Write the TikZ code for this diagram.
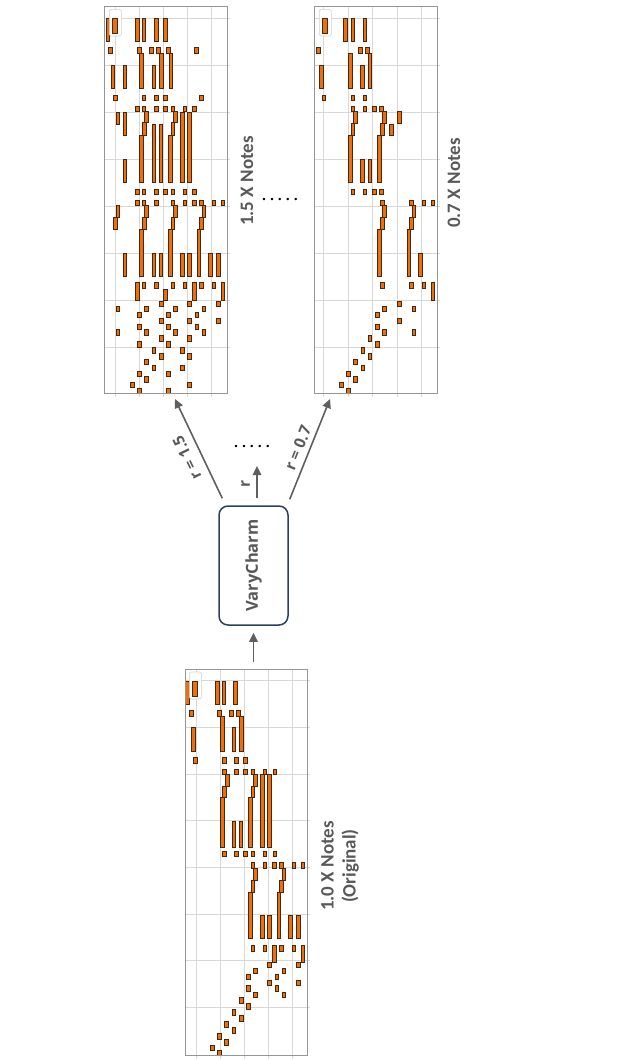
\documentclass[tikz,border=0pt]{standalone}
\usepackage{fontspec}
\usepackage{graphicx}
\setmainfont{Open Sans}
\newfontfamily\carlito{Carlito}
\usetikzlibrary{arrows.meta}
\definecolor{notefill}{RGB}{235,110,15}
\definecolor{noteline}{RGB}{70,40,15}
\definecolor{gridc}{RGB}{216,216,216}
\definecolor{framec}{RGB}{150,150,150}
\definecolor{txtc}{RGB}{89,89,89}
\definecolor{arrc}{RGB}{95,95,95}
\definecolor{boxc}{RGB}{47,64,88}
\begin{document}
\begin{tikzpicture}[x=1pt,y=-1pt,
  note/.style={fill=notefill,draw=noteline,line width=0.55pt},
  gridline/.style={draw=gridc,line width=0.8pt},
  plotframe/.style={draw=framec,line width=0.9pt,inner sep=0pt,outer sep=0pt},
  legendbox/.style={draw=black!18,fill=white,line width=0.6pt,rounded corners=1.5pt},
  arr/.style={draw=arrc,line width=1.6pt,-{Triangle[length=9pt,width=8.5pt]}},
  plotlabel/.style={text=txtc,font=\carlito\bfseries\fontsize{19}{22}\selectfont,rotate=90,align=center},
  arrlabel/.style={text=txtc,font=\bfseries\fontsize{15.5}{17}\selectfont,inner sep=1pt},
  dots/.style={text=black,font=\bfseries\fontsize{14}{15}\selectfont},
  vbox/.style={draw=boxc,line width=1.5pt,rounded corners=9pt,fill=white,minimum width=69pt,minimum height=119pt,inner sep=0pt,text=txtc,font=\bfseries\fontsize{16.5}{18}\selectfont}
]
\useasboundingbox (0,0) rectangle (621,1060);

% ---------- grids ----------
% original
\foreach \y in {680.7,727.3,774,820.7,867.3,914,960.7,1007.3}
  \draw[gridline] (185.3,\y) -- (310,\y);
\foreach \x in {196,220.3,244.3,268,292}
  \draw[gridline] (\x,669) -- (\x,1059);
% 1.5x
\foreach \y in {18.3,65,112.3,159.3,206.7,253.3,300,347}
  \draw[gridline] (104.7,\y) -- (230,\y);
\foreach \x in {115.3,139.7,163.7,187.7,211.3}
  \draw[gridline] (\x,6) -- (\x,397);
% 0.7x
\foreach \y in {18.3,65,112.3,159.3,206.7,253.3,300,347}
  \draw[gridline] (314.7,\y) -- (440,\y);
\foreach \x in {323.7,348,372,397,421}
  \draw[gridline] (\x,6) -- (\x,397);

% ---------- notes: original ----------
\foreach \x/\a/\b in {
  187.5/681/704, 217/681/704, 223.7/681/704, 235.3/681/704,
  193/727/751, 222/716/751, 233.7/727/751, 241.3/716/751,
  227/774/786, 224.3/786/797, 222/797/847, 255.3/774/786, 252.7/786/797, 250.3/797/847,
  262/774/847, 269.3/774/847, 233.7/821/847, 240.7/821/847,
  255.3/868/880, 252.7/880/892, 250.3/892/938, 283.7/868/880, 281.3/880/892, 278.7/892/938,
  262/915/938, 269.3/915/938, 290.3/915/938, 298/915/938,
  274.3/945/962, 302.7/945/962}
  \draw[note] (\x-1.8,\a) rectangle (\x+1.8,\b);
\foreach \a/\b/\l in {
  710/716/{191,219.3,231,238},
  757/763/{195.3,224.3,236,245.3},
  769/774/{224.3,236,245.3,252.7,264.7,274.7},
  851/856/{224.3,236,245.3,252.7,264.7,274.7},
  862/868/{252.7,264.7,274.3,281,293.7,302.7},
  945/951/{252.7,264.7,281.3,293.7},
  962/967/{269.3,298}, 968/973/{255.3,283.7}, 974/979/{248,276.7},
  980/985/{269.3,298}, 985.5/991/{248,276.7}, 992/997/{255.3,283.7},
  997.5/1003/{241}, 1003.5/1009/{248}, 1009.5/1015/{233.7}, 1015.5/1021/{241},
  1021.5/1027/{226.3}, 1027.5/1033/{233.7}, 1033.5/1039/{219.3}, 1039.5/1045/{226.3},
  1045.5/1050/{212}, 1050/1055/{219.3}}
  \foreach \x in \l {\draw[note] (\x-1.8,\a) rectangle (\x+1.8,\b);}

% ---------- notes: 1.5x ----------
\foreach \x/\a/\b in {
  107.7/18.3/41.7, 137/18.3/41.7, 143.7/18.3/41.7, 156/18.3/41.7, 165.3/18.3/41.7,
  141.3/53.3/88.3, 161.3/53.3/88.3, 170.7/53.3/88.3, 112.7/65/88.3, 124.7/65/88.3, 153.7/65/88.3,
  146.3/111/122.7, 144/122.7/135, 141.3/135/182.7, 175.3/111/122.7, 172.7/122.7/135, 170.3/135/182.7,
  182/112.3/182.7, 189.3/112.3/182.7, 153.7/124/182.7, 160.7/124/182.7,
  117.7/112.3/124, 124.7/112.3/135, 124.7/159.3/182.7,
  117.7/205.7/217.7, 115.3/217.7/229.3,
  146.3/205.7/217.7, 144/217.7/229.3, 141.3/229.3/276.7,
  175.3/205.7/217.7, 172.7/217.7/229.3, 170.3/229.3/276.7,
  203.7/205.7/217.7, 201.3/217.7/229.3, 198.7/229.3/276.7,
  124.7/253.3/276.7, 153.7/253.3/276.7, 160.7/253.3/276.7, 182/253.3/276.7, 189.3/253.3/276.7, 210.3/253.3/276.7, 218/253.3/276.7,
  137/282.3/300, 194.3/282.3/300, 222.7/282.3/300, 165.3/289/300}
  \draw[note] (\x-1.8,\a) rectangle (\x+1.8,\b);
\foreach \a/\b/\l in {
  47.7/53.3/{110.3,139.3,151,158,168,196.3},
  95/100/{115.3,143.7,156,165.3,201.3},
  106/111/{137,143.7,156,165.3,172.7,184.7,194.3},
  189/194.3/{137,143.7,156,165.3,172.7,184.7,194.3},
  200.3/205.7/{137,143.7,156,172.7,184.7,194.3,201.3,213.7,222.7},
  282.3/288.3/{143.7,156,172.7,184.7,201.3,213.7},
  301/306/{161,189.3,218}, 306.7/311.7/{117.7,146.3,175.3,203.7},
  312/317.7/{139.3,168,196.7}, 318.3/323.3/{161,189.3,218},
  324/329/{139.3,168,196.7}, 329.7/335/{117.7,146.3,175.3,203.7},
  335.7/341/{161,189.3}, 341.7/347/{139.3,168}, 347.7/353/{153.7,182},
  353.7/359/{161,189.3}, 359.3/364.7/{146.3}, 365/370.3/{153.7,182},
  371/376.3/{139.3,168}, 376.7/382/{146.3}, 382.3/387.7/{132,189.3}, 388.2/393/{139.3,168}}
  \foreach \x in \l {\draw[note] (\x-1.8,\a) rectangle (\x+1.8,\b);}

% ---------- notes: 0.7x ----------
\foreach \x/\a/\b in {
  345.3/18.3/41.7, 352.7/18.3/41.7, 364.7/18.3/41.7,
  350.3/53.3/88.3, 369.7/53.3/88.3, 321/65/88.3, 362/65/88.3,
  355.3/111.7/123.3, 352.7/123.3/135, 350.3/135/182.7,
  384.3/111.7/123.3, 382/123.3/135, 379.3/135/182.7,
  399.3/111.7/123.3, 391.3/124/135,
  362/159.3/182.7, 369.7/159.3/182.7,
  384.3/205.7/217.7, 382/217.7/229.3, 379.3/229.3/276.7,
  413.7/205.7/217.7, 411.3/217.7/229.3, 408.7/229.3/276.7,
  420.3/253.3/276.7, 432.7/282.3/300}
  \draw[note] (\x-1.8,\a) rectangle (\x+1.8,\b);
\foreach \a/\b/\l in {
  47.7/53.3/{318,360.3,367},
  95/100/{323.7,352.7,364.7},
  106/111/{352.7,364.7,374.3,381.3},
  189/194.3/{352.7,364.7,374.3,381.3},
  200.3/205.7/{382,411.3,423.7,432.7},
  282.3/288.3/{382,411.3,423.7},
  301/306/{399.3}, 306.7/311.7/{384.3,413.7}, 312/317.7/{377},
  318.3/323.3/{399.3}, 324/329/{377}, 329.7/335/{384.3,413.7},
  335.7/341/{369.7}, 341.7/347/{377}, 347.7/353/{362.7}, 353.7/359/{369.7},
  359.3/364.7/{355.3}, 365/370.3/{362.7}, 371/376.3/{348}, 376.7/382/{355.3},
  382.3/387.7/{341}, 388.2/393/{348}}
  \foreach \x in \l {\draw[note] (\x-1.8,\a) rectangle (\x+1.8,\b);}

% ---------- frames ----------
\node[plotframe,minimum width=121.7pt,minimum height=386pt] (orig) at (246.15,862) {};
\node[plotframe,minimum width=122.3pt,minimum height=387pt] (p15) at (165.85,199.5) {};
\node[plotframe,minimum width=122.3pt,minimum height=387pt] (p07) at (375.85,199.5) {};

% ---------- legends ----------
\draw[legendbox] (189.3,672) rectangle (201.3,699);
\draw[note] (192,681) rectangle (197,696);
\draw[legendbox] (109.3,9.3) rectangle (121.3,36);
\draw[note] (112,18.3) rectangle (117,33.3);
\draw[legendbox] (319.3,9.3) rectangle (331.3,36);
\draw[note] (322,18.3) rectangle (327,33.3);

% ---------- VaryCharm ----------
\node[vbox] (vc) at (253.5,565.5) {\rotatebox{90}{VaryCharm}};

% ---------- arrows ----------
\draw[arr,shorten <=7pt,shorten >=7pt] (vc.south |- orig.north) -- (vc.south);
\coordinate (rtip) at (257,466);
\draw[arr,shorten <=7pt] ([xshift=3.5pt]vc.north) -- (rtip);
\draw[arr] ([shift={(4,-7)}]vc.north west) -- ([shift={(9.15,6)}]p15.south);
\draw[arr] ([shift={(1,-6)}]vc.north east) -- ([shift={(-45.85,6)}]p07.south);

% ---------- labels ----------
\node[plotlabel] (l15) at (247,181) {1.5 X Notes};
\node[plotlabel] (l07) at (454,183) {0.7 X Notes};
\node[plotlabel] (l10) at (340,866) {1.0 X Notes\\(Original)};
\node[arrlabel,rotate=116] (lr15) at (187,458) {r = 1.5};
\node[arrlabel,rotate=68] (lr07) at (298,448) {r = 0.7};
\node[arrlabel,rotate=90] (lr) at (245.5,484) {r};
\node[dots] (d1) at (280,200) {.\hspace{4pt}.\hspace{4pt}.\hspace{4pt}.\hspace{4pt}.};
\node[dots] (d2) at (252,447) {.\hspace{4pt}.\hspace{4pt}.\hspace{4pt}.\hspace{4pt}.};
\end{tikzpicture}
\end{document}
